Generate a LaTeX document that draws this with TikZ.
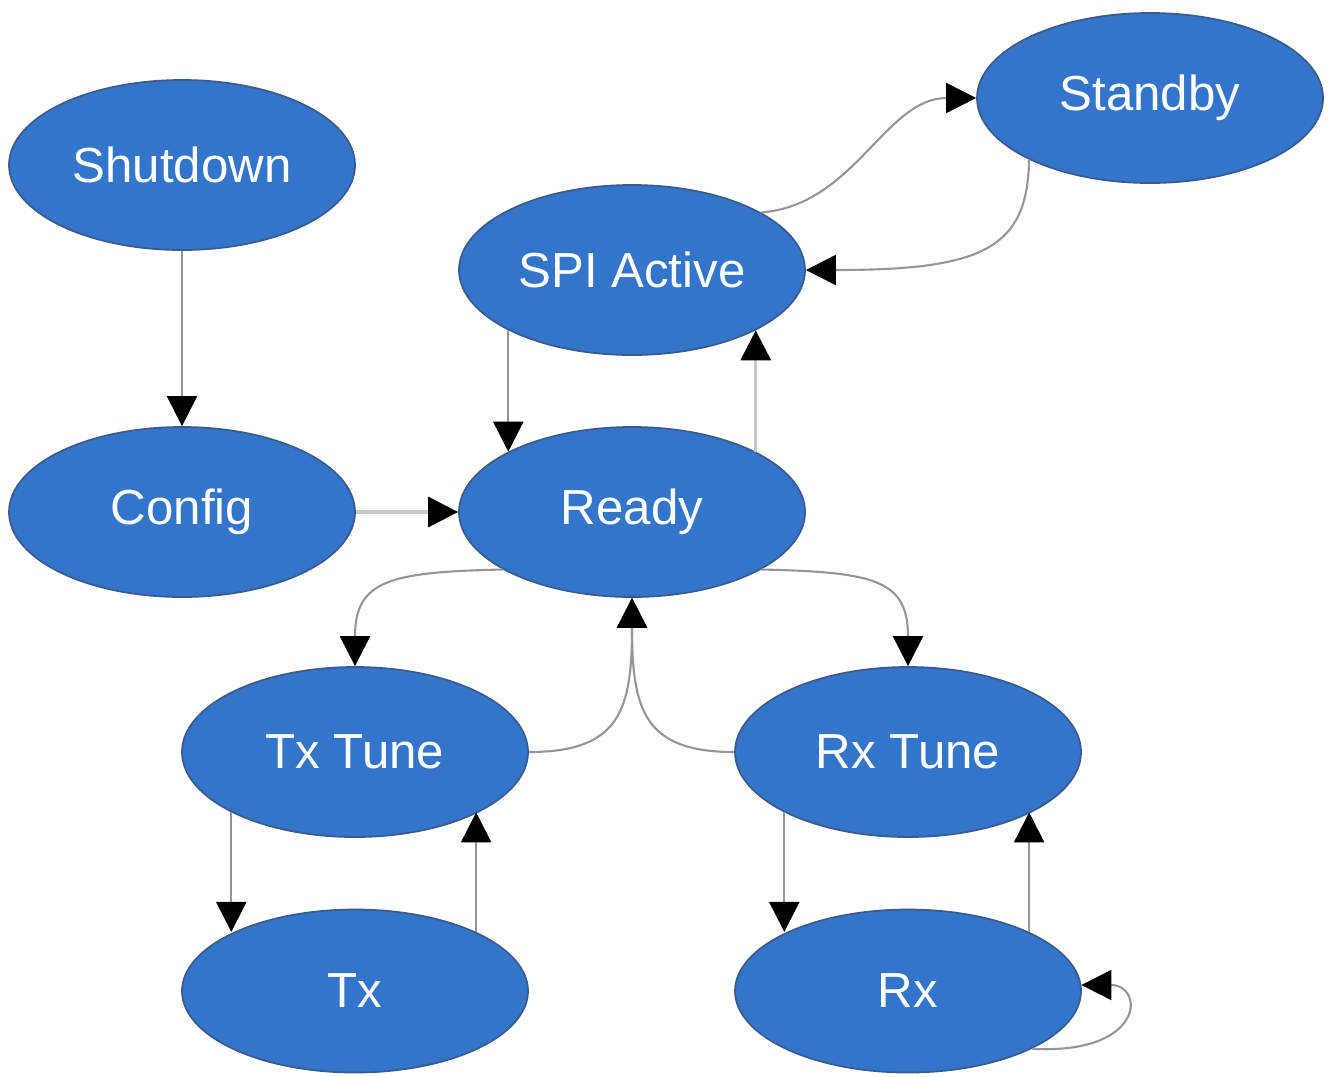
\documentclass[tikz,border=0pt]{standalone}
\usepackage{fontspec}
\setmainfont{Liberation Sans}
\usepackage{tikz}
\usetikzlibrary{shapes,arrows.meta,positioning,calc}
\definecolor{statefill}{RGB}{52,117,204}
\definecolor{stateline}{RGB}{58,92,140}
\definecolor{edgegray}{RGB}{150,150,150}
\definecolor{edgelight}{RGB}{200,200,200}
\tikzstyle{state} = [ellipse,draw=stateline,line width=0.5pt,fill=statefill,text=white,minimum width=3.46cm,minimum height=1.70cm,inner sep=0pt,font=\fontsize{14}{16}\selectfont]
\tikzstyle{edge} = [draw=edgegray,line width=0.6pt]
\tikzstyle{edge light} = [draw=edgelight,line width=0.9pt]
\tikzset{>={Triangle[length=3mm,width=3mm,color=black,fill=black]}}

\begin{document}
\begin{tikzpicture}
    \useasboundingbox (0,0) rectangle (13.29,-10.76);

    \node [state] (shutdown) at (1.82,-1.65) {Shutdown};
    \node [state] (config) at (1.82,-5.12) {Config};
    \node [state] (spi) at (6.32,-2.70) {SPI Active};
    \node [state] (standby) at (11.50,-0.98) {Standby};
    \node [state] (ready) at (6.32,-5.12) {Ready};
    \node [state] (txtune) at (3.55,-7.52) {Tx Tune};
    \node [state] (rxtune) at (9.08,-7.52) {Rx Tune};
    \node [state,minimum height=1.63cm] (tx) at (3.55,-9.91) {Tx};
    \node [state,minimum height=1.63cm] (rx) at (9.08,-9.91) {Rx};

    \draw [edge,->] (shutdown) -- (config);
    \draw [edge light,->] (config) -- (ready);
    \draw [edge,->] (spi.206) -- (ready.154);
    \draw [edge light,->] (ready.26) -- (spi.334);

    \draw [edge,->] (spi.24) .. controls (8.55,-2.05) and (8.85,-0.98) .. (standby.west);
    \draw [edge,->] (standby.207) .. controls (10.28,-2.5) and (9.8,-2.70) .. (spi.east);

    \draw [edge,->] (ready.204) .. controls (3.9,-5.72) and (3.55,-5.8) .. (txtune.north);
    \draw [edge,->] (ready.336) .. controls (8.75,-5.72) and (9.08,-5.8) .. (rxtune.north);
    \draw [edge,->] (txtune.east) .. controls (6.2,-7.52) and (6.32,-7.1) .. (ready.south);
    \draw [edge,->] (rxtune.west) .. controls (6.44,-7.52) and (6.32,-7.1) .. (ready.south);

    \draw [edge,->] (txtune.206) -- (txtune.206 |- tx.154);
    \draw [edge,->] (tx.26) -- (tx.26 |- txtune.334);
    \draw [edge,->] (rxtune.206) -- (rxtune.206 |- rx.154);
    \draw [edge,->] (rx.26) -- (rx.26 |- rxtune.334);

    \draw [edge,->] (rx.335) .. controls (11.45,-10.55) and (11.45,-9.85) .. (rx.2);
\end{tikzpicture}
\end{document}
